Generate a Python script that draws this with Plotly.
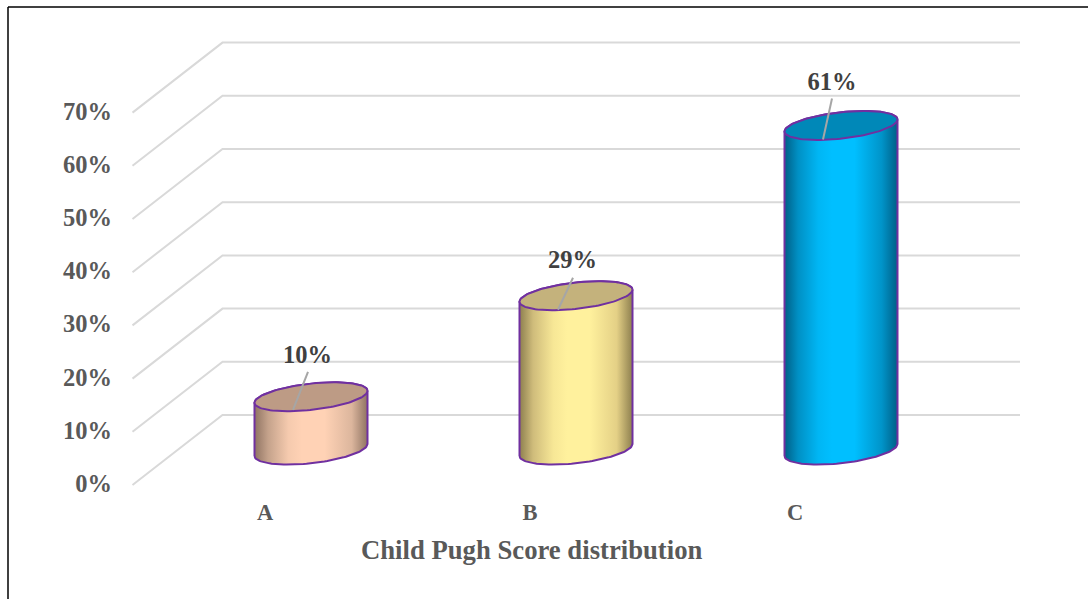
import numpy as np
import plotly.graph_objects as go

categories = ["A", "B", "C"]
values = [10, 29, 61]
value_labels = ["10%", "29%", "61%"]
y_ticks = [0, 10, 20, 30, 40, 50, 60, 70]
y_tick_labels = ["0%", "10%", "20%", "30%", "40%", "50%", "60%", "70%"]
x_title = "Child Pugh Score distribution"

# layout geometry
W, H = 1088, 599
L, R, T, B = 113, 1030, 30, 496
X0_PX, X_UNIT = 311.0, 265.0
Y0_PX, Y_UNIT = 450.0, 5.32
x_range = [(L - X0_PX) / X_UNIT, (R - X0_PX) / X_UNIT]
y_range = [(Y0_PX - B) / Y_UNIT, (Y0_PX - T) / Y_UNIT]

# pseudo-3D styling in axis units
GRID_FRONT = (132.5 - X0_PX) / X_UNIT
GRID_BACK = (222.5 - X0_PX) / X_UNIT
GRID_RIGHT = (1020 - X0_PX) / X_UNIT
DEPTH_Y = 35 / Y_UNIT
BAR_A = 56.5 / X_UNIT
BAR_B = 13.2 / Y_UNIT
BAR_S = 6.0 / Y_UNIT
FLOOR = 0.0

body_stops = [
    ["#8f7362", "#c4a28b", "#f5caae", "#ffd2b5", "#ffd2b5", "#dcb69d", "#8f7362"],
    ["#8d7f4f", "#cfbc7b", "#f7e796", "#fff19d", "#fff19d", "#e4d086", "#8d7f4f"],
    ["#005f86", "#0090c4", "#00b6f4", "#00bfff", "#00bfff", "#0094c9", "#005f86"],
]
stop_pos = [0, 0.12, 0.3, 0.42, 0.62, 0.86, 1]
top_colors = ["#bd9b85", "#c4b27c", "#0088b8"]
OUTLINE = "#7030a0"
GRID = "#d9d9d9"
GRAY = "#595959"
DARK = "#404040"
FONT = "Liberation Serif"
# label and leader-line offsets from the top centre
label_dx = [-3.5 / X_UNIT, -3.5 / X_UNIT, -9 / X_UNIT]
label_dy = [39.5 / Y_UNIT, 33.5 / Y_UNIT, 42 / Y_UNIT]
lead_x0 = [-18 / X_UNIT, -18 / X_UNIT, -18 / X_UNIT]
lead_y0 = [-13 / Y_UNIT, -14 / Y_UNIT, -14 / Y_UNIT]
lead_x1 = [-3 / X_UNIT, -3 / X_UNIT, -9 / X_UNIT]
lead_y1 = [25 / Y_UNIT, 18 / Y_UNIT, 27 / Y_UNIT]

fig = go.Figure()

# slanted gridlines on side wall plus back wall
for v in y_ticks:
    fig.add_trace(go.Scatter(
        x=[GRID_FRONT, GRID_BACK, GRID_RIGHT],
        y=[v - DEPTH_Y, v + DEPTH_Y, v + DEPTH_Y],
        mode="lines", line=dict(color=GRID, width=2), hoverinfo="skip", showlegend=False))

for i, v in enumerate(values):
    t = np.linspace(0, np.pi, 60)
    ex = BAR_A * np.cos(t)
    eb = BAR_B * np.sin(t)
    es = BAR_S * np.cos(t)
    # body: bottom front arc (left to right), then top back arc (right to left)
    xs = np.concatenate([i + ex[::-1], i + ex])
    ys = np.concatenate([FLOOR + es[::-1] - eb[::-1], v + es + eb])
    fig.add_trace(go.Scatter(
        x=np.append(xs, xs[0]), y=np.append(ys, ys[0]), mode="lines", fill="toself",
        fillgradient=dict(type="horizontal",
                          colorscale=[[p, c] for p, c in zip(stop_pos, body_stops[i])]),
        line=dict(color=OUTLINE, width=2), hoverinfo="skip", showlegend=False))
    # top ellipse
    a = np.linspace(0, 2 * np.pi, 120)
    fig.add_trace(go.Scatter(
        x=i + BAR_A * np.cos(a), y=v + BAR_S * np.cos(a) + BAR_B * np.sin(a),
        mode="lines", fill="toself", fillcolor=top_colors[i],
        line=dict(color=OUTLINE, width=2), hoverinfo="skip", showlegend=False))
    # leader line
    fig.add_trace(go.Scatter(
        x=[i + lead_x0[i], i + lead_x1[i]], y=[v + lead_y0[i], v + lead_y1[i]],
        mode="lines", line=dict(color="#a6a6a6", width=2), hoverinfo="skip", showlegend=False))
    # value label
    fig.add_trace(go.Scatter(
        x=[i + label_dx[i]], y=[v + label_dy[i]], text=[value_labels[i]],
        mode="text", textposition="middle center",
        textfont=dict(family=FONT, size=24.5, color=DARK, weight="bold"),
        hoverinfo="skip", showlegend=False))

fig.update_layout(
    width=W, height=H, autosize=False,
    paper_bgcolor="white", plot_bgcolor="white",
    margin=dict(l=L, r=W - R, t=T, b=H - B, pad=0),
    showlegend=False,
    xaxis=dict(
        range=x_range, showgrid=False, zeroline=False, showline=False, ticks="",
        tickmode="array", tickvals=[j - 46 / X_UNIT for j in range(len(categories))],
        ticktext=[f"<b>{c}</b>" for c in categories],
        tickfont=dict(family=FONT, size=22.5, color=GRAY),
    ),
    yaxis=dict(
        range=y_range, showgrid=False, zeroline=False, showline=False, ticks="",
        tickmode="array", tickvals=[v - DEPTH_Y + 0.3 for v in y_ticks],
        ticktext=[f"<b>{s}</b>" for s in y_tick_labels],
        tickfont=dict(family=FONT, size=24.5, color=GRAY),
    ),
    annotations=[dict(
        text=f"<b>{x_title}</b>", xref="x", yref="paper", showarrow=False,
        x=(531 - X0_PX) / X_UNIT, y=(B - 550) / (B - T), xanchor="center", yanchor="middle",
        font=dict(family=FONT, size=26.7, color=GRAY),
    )],
    shapes=[
        dict(type="line", xref="paper", yref="paper",
             x0=(8 - L) / (R - L), x1=(8 - L) / (R - L), y0=(B - H) / (B - T), y1=(B - 7) / (B - T),
             line=dict(color="black", width=1.5)),
        dict(type="line", xref="paper", yref="paper",
             x0=(8 - L) / (R - L), x1=(W - L) / (R - L), y0=(B - 7) / (B - T), y1=(B - 7) / (B - T),
             line=dict(color="black", width=1.5)),
    ],
)

fig.write_html("out.html", config={"displayModeBar": False}, post_script="document.body.style.margin='0';")
